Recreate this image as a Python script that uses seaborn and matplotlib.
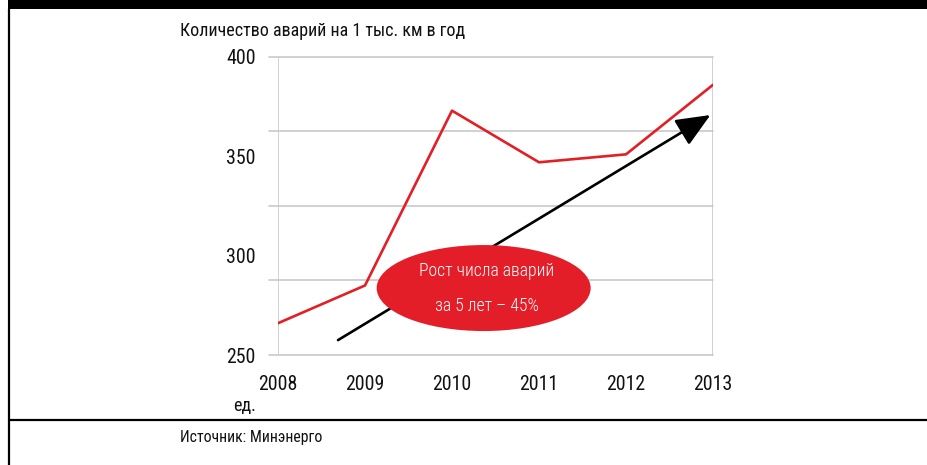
import matplotlib
matplotlib.use("Agg")
import matplotlib.pyplot as plt
from matplotlib import font_manager
from matplotlib.patches import Ellipse
import seaborn as sns
import pandas as pd

# Data
years = [2008, 2009, 2010, 2011, 2012, 2013]
accidents = [266, 285, 373, 347, 351, 386]
y_ticks = [250, 300, 350, 400]
grid_levels = [250, 287.5, 325, 362.5, 400]
trend_start = (2008.69, 257.5)
trend_end = (2012.97, 370.8)
title_text = "Количество аварий на 1 тыс. км в год"
unit_text = "ед."
source_text = "Источник: Минэнерго"
badge_lines = ["Рост числа аварий", "за 5 лет – 45%"]

RED = "#e31e24"
GRID = "#c9c9c9"

sns.set_style("white")
available = {f.name for f in font_manager.fontManager.ttflist}
preferred = ["Roboto Condensed", "Liberation Sans Narrow", "Open Sans Condensed",
             "Roboto", "Liberation Sans"]
main_font = next((f for f in preferred if f in available), "DejaVu Sans")
plt.rcParams["font.family"] = [main_font, "DejaVu Sans"]

W, H = 927, 465
fig = plt.figure(figsize=(W / 100, H / 100), dpi=100)

# Axes area in pixel terms
x0, x1 = 278, 713
y_top, y_bot = 57, 355
ax = fig.add_axes([x0 / W, (H - y_bot) / H, (x1 - x0) / W, (y_bot - y_top) / H])

df = pd.DataFrame({"year": years, "value": accidents})
sns.lineplot(data=df, x="year", y="value", ax=ax, color=RED, linewidth=1.9, zorder=4)

ax.set_xlim(years[0], years[-1])
ax.set_ylim(y_ticks[0], y_ticks[-1])

for s in ax.spines.values():
    s.set_visible(False)

# horizontal grid, slightly extending past the left edge
ext = 9 / (x1 - x0)
for g in grid_levels:
    ax.axhline(g, xmin=-ext, xmax=1, color=GRID, linewidth=1.2, clip_on=False, zorder=1)
# vertical borders of the plot area
ax.axvline(years[0], color=GRID, linewidth=1.2, zorder=1)
ax.axvline(years[-1], color=GRID, linewidth=1.2, zorder=1)

ax.set_xticks(years)
ax.set_xticklabels([str(y) for y in years])
ax.set_yticks(y_ticks)
ax.set_yticklabels([str(v) for v in y_ticks])
ax.tick_params(axis="x", length=7, width=1.2, color=GRID, pad=7.5, labelsize=14.3, labelcolor="#111111")
ax.tick_params(axis="y", length=0, pad=16, labelsize=14.3, labelcolor="#111111")
ax.set_xlabel("")
ax.set_ylabel("")

# Trend arrow
ax.annotate("", xy=trend_end, xytext=trend_start,
            arrowprops=dict(arrowstyle="-|>,head_length=2.1,head_width=0.9",
                            color="black", linewidth=1.9, shrinkA=0, shrinkB=0),
            zorder=3)

# Red badge
ell_cx, ell_cy = 2010.364, 283.7
ell = Ellipse((ell_cx, ell_cy), width=214 / 87, height=86 / (298 / 150),
              facecolor="#e41e28", edgecolor="none", zorder=5)
ax.add_patch(ell)
ax.text(2010.4, 292.5, badge_lines[0], color="white", ha="center", va="center",
        fontsize=12.8, fontweight="light", zorder=6)
ax.text(2010.4, 274.9, badge_lines[1], color="white", ha="center", va="center",
        fontsize=12.8, fontweight="light", zorder=6)

# Frame decorations
fig.patches.append(plt.Rectangle((8 / W, (H - 9) / H), 1 - 8 / W, 9 / H,
                                 transform=fig.transFigure, facecolor="black",
                                 edgecolor="none"))
fig.lines.append(plt.Line2D([9 / W, 9 / W], [0, (H - 9) / H], transform=fig.transFigure,
                            color="black", linewidth=1.6))
fig.lines.append(plt.Line2D([9 / W, 1], [(H - 420) / H, (H - 420) / H],
                            transform=fig.transFigure, color="black", linewidth=1.6))

fig.text(180 / W, (H - 31) / H, title_text, ha="left", va="center", fontsize=13, color="#111111")
fig.text(233 / W, (H - 406) / H, unit_text, ha="left", va="center", fontsize=13, color="#111111")
fig.text(180 / W, (H - 437) / H, source_text, ha="left", va="center", fontsize=11.3, color="#111111")

fig.savefig("out.png", dpi=100)
